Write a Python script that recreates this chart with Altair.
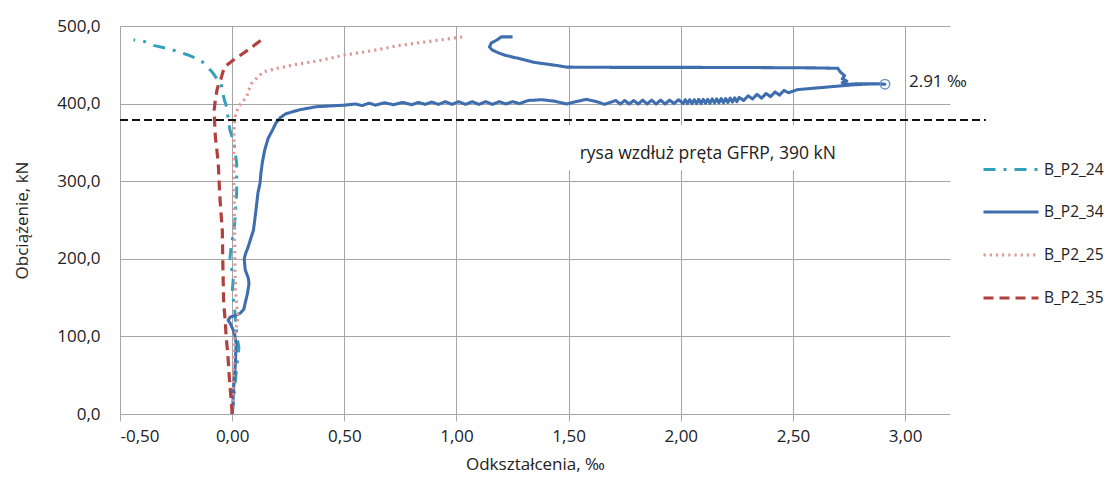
import altair as alt
import pandas as pd

# ---------------- data ----------------
series_names = ["B_P2_24", "B_P2_34", "B_P2_25", "B_P2_35"]
series_colors = ["#33A1B9", "#3F6EAF", "#DB9896", "#B1403E"]
series_dash = [[12, 8, 3, 8], [1, 0], [2.2, 4], [10, 6]]
series_width = [3, 3.2, 2.8, 3.4]

# B_P2_24 (dash-dot, teal)
x24 = [0.000, 0.010, 0.020, 0.030, 0.022, 0.015, 0.010, 0.000, 0.005, -0.010, -0.005, 0.010,
       0.020, 0.020, 0.010, 0.000, -0.010, -0.018, -0.025, -0.035, -0.045, -0.050, -0.065,
       -0.090, -0.140, -0.200, -0.275, -0.350, -0.400, -0.440]
y24 = [0, 30, 60, 85, 100, 120, 140, 156, 175, 200, 215, 240,
       285, 323, 345, 357, 366, 381, 396, 405, 418, 428, 431,
       441, 456, 463, 470, 475, 481, 482]

# B_P2_34 (solid, blue)
x34 = [0.000, 0.003, 0.005, 0.008, 0.012, 0.015, 0.016, 0.018, 0.013, 0.005, -0.009, -0.018,
       -0.008, 0.015, 0.036, 0.052, 0.058, 0.068, 0.075, 0.072, 0.058, 0.054, 0.060, 0.071,
       0.085, 0.095, 0.105, 0.115, 0.124, 0.128, 0.135, 0.145, 0.160, 0.180, 0.195, 0.215,
       0.240, 0.300, 0.376, 0.440,
       0.50, 0.55, 0.58, 0.61, 0.64, 0.68, 0.72, 0.76, 0.80, 0.83, 0.86, 0.89, 0.92, 0.95,
       0.98, 1.01, 1.04, 1.07, 1.10, 1.13, 1.16, 1.19, 1.22, 1.25, 1.28,
       1.32, 1.38, 1.44, 1.49, 1.54, 1.58, 1.63, 1.66, 1.69,
       1.71, 1.73, 1.75, 1.77, 1.79, 1.81, 1.83, 1.85, 1.87, 1.89, 1.91, 1.93, 1.95, 1.97,
       1.99, 2.01,
       2.02, 2.03, 2.04, 2.05, 2.06, 2.07, 2.08, 2.09, 2.10, 2.11, 2.12, 2.13, 2.14, 2.15,
       2.16, 2.17, 2.18, 2.19, 2.20, 2.21, 2.22, 2.23, 2.24, 2.25, 2.26,
       2.28, 2.30, 2.32, 2.34, 2.36, 2.38, 2.40, 2.42, 2.44, 2.46, 2.48,
       2.52, 2.58, 2.64, 2.70, 2.76, 2.82, 2.88, 2.91,
       2.85, 2.78, 2.73, 2.72, 2.74, 2.72, 2.73, 2.71, 2.70, 2.60, 2.30, 2.00, 1.70, 1.49,
       1.45, 1.41, 1.35, 1.28, 1.22, 1.19, 1.16, 1.147, 1.155, 1.18, 1.20, 1.25]
y34 = [0, 10, 25, 40, 55, 70, 80, 90, 100, 108, 117, 121,
       125, 127, 130, 135, 143, 155, 168, 175, 186, 200, 207, 215,
       228, 237, 260, 285, 297, 310, 325, 340, 355, 366, 375, 382,
       387, 392, 396, 397,
       398, 399.5, 397.5, 400.5, 398, 401, 398.5, 401.5, 398.5, 401.5, 399, 402, 399, 402.5,
       399, 402.5, 399, 402.5, 399, 402.5, 399, 402.5, 399.5, 402.5, 400,
       404, 405, 403, 399.5, 403, 405.5, 402, 399, 402,
       404, 399.5, 404, 399.5, 404, 399.5, 404.5, 399.5, 404.5, 399.5, 404.5, 399.5, 404.5, 400,
       405, 400,
       405, 400, 405, 400, 405, 400, 405.5, 400, 405.5, 400.5, 405.5, 400.5, 406, 401,
       406, 401, 406.5, 401, 406.5, 401.5, 407, 402, 407.5, 402.5, 408,
       404, 410, 406, 412, 407, 413, 409, 415, 411, 417, 414,
       418, 419.5, 421, 422.5, 424, 425, 425.5, 425,
       425.5, 425.5, 424.5, 427, 429, 432, 436, 441, 445.5, 446, 446.5, 446.7, 446.7, 447,
       449, 450.6, 453, 458, 462, 465, 469, 473, 478, 482, 486, 486]

# B_P2_25 (dotted, pink)
x25 = [0.000, 0.005, 0.008, 0.013, 0.020, 0.027, 0.020, 0.015, 0.013, 0.010, 0.006, 0.008,
       0.013, 0.028, 0.045, 0.065, 0.073, 0.087, 0.117, 0.140, 0.200, 0.287, 0.400, 0.500,
       0.620, 0.747, 0.900, 1.030]
y25 = [0, 40, 80, 100, 115, 125, 140, 160, 182, 250, 323, 366,
       383, 396, 402, 409, 417, 426, 435, 441, 445.5, 450.6, 456, 462.6,
       468, 475, 481, 486]

# B_P2_35 (dashed, dark red)
x35 = [0.000, -0.005, -0.012, -0.020, -0.027, -0.031, -0.038, -0.041, -0.044, -0.050, -0.055,
       -0.062, -0.070, -0.075, -0.078, -0.080, -0.075, -0.068, -0.058, -0.050, -0.046, -0.035,
       0.000, 0.040, 0.085, 0.130]
y35 = [0, 20, 44, 79, 100, 121, 143, 186, 237, 260, 280,
       323, 345, 357, 375, 392, 405, 417, 428, 432, 436, 447,
       455, 463, 472, 482]

x_ticks = [-0.5, 0.0, 0.5, 1.0, 1.5, 2.0, 2.5, 3.0]
y_ticks = [0, 100, 200, 300, 400, 500]

crack_load = [379]
crack_x = [-0.5]
crack_x2 = [3.36]
crack_text = ["rysa wzdłuż pręta GFRP, 390 kN"]
crack_text_x = [2.12]
crack_text_y = [335]
box_x = [1.17]
box_x2 = [2.86]
box_y = [314]
box_y2 = [372]

max_x = [2.91]
max_y = [425]
max_text = ["2.91 ‰"]

# ---------------- table ----------------
rows = []
for name, xs, ys in [("B_P2_24", x24, y24), ("B_P2_34", x34, y34),
                     ("B_P2_25", x25, y25), ("B_P2_35", x35, y35)]:
    for i, (xv, yv) in enumerate(zip(xs, ys)):
        rows.append({"series": name, "x": xv, "y": yv, "i": i})
df = pd.DataFrame(rows)

FONT = "Open Sans"
TXT = "#222222"
GRID = "#A6A6A6"

xscale = alt.Scale(domain=[-0.5, 3.2], nice=False, zero=False)
yscale = alt.Scale(domain=[0, 500], nice=False)

minus = "\u2212"
x_axis = alt.Axis(
    values=x_ticks, title="Odkształcenia, ‰", grid=True, gridColor=GRID, gridWidth=1,
    domain=False, ticks=True, tickColor=GRID, tickSize=7, tickWidth=1,
    labelExpr="replace(replace(format(datum.value, '.2f'), '.', ','), '" + minus + "', '-')",
    labelFontSize=17, labelColor=TXT, labelPadding=7, titleFontSize=17, titleColor=TXT,
    titleFontWeight="normal", titlePadding=12, labelFont=FONT, titleFont=FONT,
)
y_axis = alt.Axis(
    values=y_ticks, title="Obciążenie, kN", grid=True, gridColor=GRID, gridWidth=1,
    domain=True, domainColor=GRID, ticks=False,
    labelExpr="replace(format(datum.value, '.1f'), '.', ',')",
    labelFontSize=17, labelColor=TXT, labelPadding=20, titleFontSize=17, titleColor=TXT,
    titleFontWeight="normal", titlePadding=25, labelFont=FONT, titleFont=FONT,
)

legend = alt.Legend(
    title=None, orient="none", legendX=878, legendY=131, padding=0,
    symbolType="M-2.5,0H2.5", symbolSize=484, labelFontSize=15.5, labelFont=FONT,
    labelColor=TXT, labelOffset=20, rowPadding=21, symbolStrokeWidth=3,
)

box = alt.Chart(pd.DataFrame({"x": box_x, "x2": box_x2, "y": box_y, "y2": box_y2})).mark_rect(
    color="white"
).encode(
    x=alt.X("x:Q", scale=xscale, axis=x_axis), x2="x2:Q",
    y=alt.Y("y:Q", scale=yscale, axis=y_axis), y2="y2:Q",
)

lines = alt.Chart(df).mark_line(strokeJoin="round").encode(
    x=alt.X("x:Q", scale=xscale, axis=x_axis),
    y=alt.Y("y:Q", scale=yscale, axis=y_axis),
    color=alt.Color("series:N", scale=alt.Scale(domain=series_names, range=series_colors),
                    legend=legend, sort=series_names),
    strokeDash=alt.StrokeDash("series:N", scale=alt.Scale(domain=series_names, range=series_dash),
                              legend=legend, sort=series_names),
    strokeWidth=alt.StrokeWidth("series:N", scale=alt.Scale(domain=series_names, range=series_width),
                                legend=legend, sort=series_names),
    order="i:Q",
    detail="series:N",
)

crack = alt.Chart(pd.DataFrame({"x": crack_x, "x2": crack_x2, "y": crack_load})).mark_rule(
    color="#111111", strokeWidth=2, strokeDash=[8, 4], clip=False
).encode(
    x=alt.X("x:Q", scale=xscale), x2="x2:Q", y=alt.Y("y:Q", scale=yscale),
)

crack_lbl = alt.Chart(pd.DataFrame({"x": crack_text_x, "y": crack_text_y, "t": crack_text})).mark_text(
    font=FONT, fontSize=17.5, color=TXT, align="center", baseline="middle"
).encode(x=alt.X("x:Q", scale=xscale), y=alt.Y("y:Q", scale=yscale), text="t:N")

max_pt = alt.Chart(pd.DataFrame({"x": max_x, "y": max_y})).mark_point(
    shape="circle", filled=False, size=90, strokeWidth=1.5, color="#6C93CC", opacity=1
).encode(x=alt.X("x:Q", scale=xscale), y=alt.Y("y:Q", scale=yscale))

max_lbl = alt.Chart(pd.DataFrame({"x": max_x, "y": max_y, "t": max_text})).mark_text(
    font=FONT, fontSize=17, color=TXT, align="left", baseline="middle", dx=24, dy=-2
).encode(x=alt.X("x:Q", scale=xscale), y=alt.Y("y:Q", scale=yscale), text="t:N")

chart = alt.layer(box, lines, crack, crack_lbl, max_pt, max_lbl).properties(
    width=830, height=388,
    autosize=alt.AutoSizeParams(type="none"),
    padding={"left": 112, "top": 18, "right": 160, "bottom": 61},
).configure(font=FONT).configure_view(stroke=None)

chart.save("out.html", embed_options={"renderer": "svg", "actions": False})
